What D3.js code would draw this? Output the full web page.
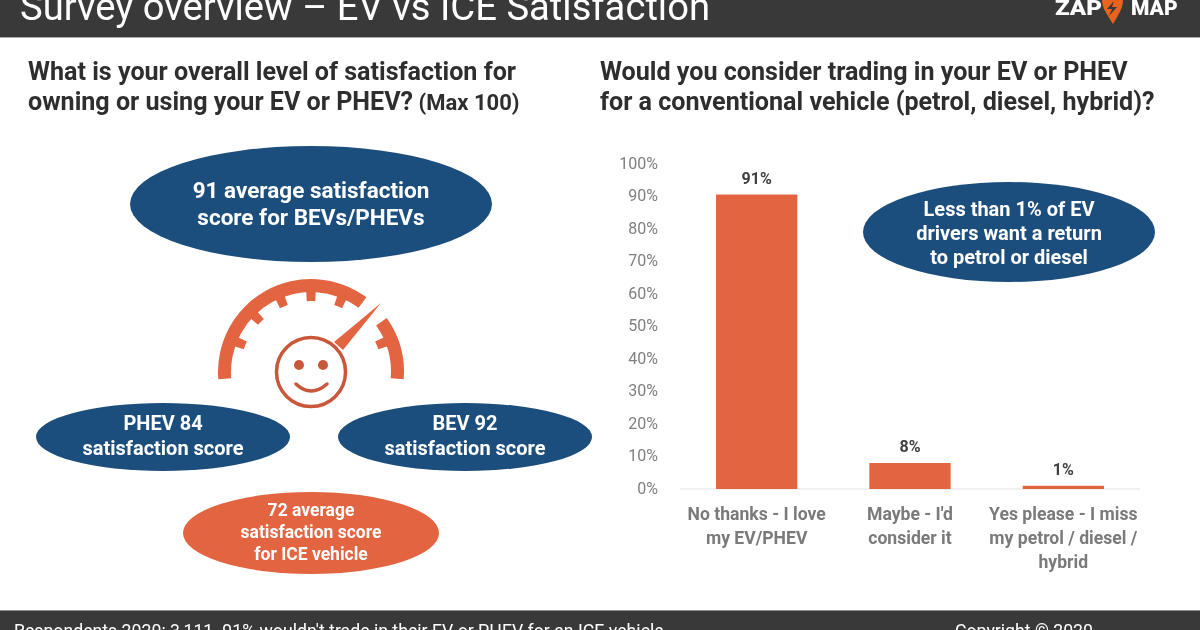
<!DOCTYPE html>
<html>
<head>
<meta charset="utf-8">
<script src="https://cdn.jsdelivr.net/npm/d3@7"></script>
<style>
html, body { margin: 0; padding: 0; background: #fff; }
svg { display: block; filter: blur(0.45px); }
text { font-family: Roboto, sans-serif; }
</style>
</head>
<body>
<div id="chart"></div>
<script>
// chart values
var answers = [["No thanks - I love", "my EV/PHEV"], ["Maybe - I'd", "consider it"], ["Yes please - I miss", "my petrol / diesel /", "hybrid"]];
var shares = [90.6, 8, 1];
var shareTicks = [0, 10, 20, 30, 40, 50, 60, 70, 80, 90, 100];
var gaugeDegrees = [-68, -45, -22.5, 0, 22.5, 68];

var navy = "#1c4e7d", orange = "#e26440", dark = "#393939";

var svg = d3.select("#chart").append("svg")
    .attr("width", 1200)
    .attr("height", 630);

// header + footer bands
svg.append("rect").attr("width", 1200).attr("height", 37).attr("fill", dark);
svg.append("rect").attr("y", 37).attr("width", 1200).attr("height", 1).attr("fill", "#a8a8a8");
svg.append("rect").attr("y", 610).attr("width", 1200).attr("height", 20).attr("fill", dark);
svg.append("rect").attr("y", 610).attr("width", 1200).attr("height", 1).attr("fill", "#8c8c8c");

svg.append("text").attr("x", 20).attr("y", 20)
    .attr("font-size", 38.2).attr("font-weight", 400).attr("fill", "#fff")
    .text("Survey overview – EV vs ICE Satisfaction");

svg.append("text").attr("x", 14).attr("y", 637)
    .attr("font-size", 17.7).attr("fill", "#fff")
    .text("Respondents 2020: 3,111. 91% wouldn't trade in their EV or PHEV for an ICE vehicle");
svg.append("text").attr("x", 955).attr("y", 637)
    .attr("font-size", 17.7).attr("fill", "#fff")
    .text("Copyright © 2020");

// logo
svg.append("text").attr("x", 1055).attr("y", 15)
    .attr("font-size", 21).attr("font-weight", 900).attr("fill", "#fff")
    .attr("textLength", 47).attr("lengthAdjust", "spacingAndGlyphs").text("ZAP");
svg.append("text").attr("x", 1131).attr("y", 15)
    .attr("font-size", 21).attr("font-weight", 900).attr("fill", "#fff").text("MAP");
svg.append("path")
    .attr("d", "M1102,0 L1123,0 C1123,8 1119,14 1113,24 C1107,14 1102,8 1102,0 Z")
    .attr("fill", "#e8641e");
svg.append("path")
    .attr("d", "M1114,1 L1107,9 L1112,9 L1109,16 L1117,7 L1112,7 Z")
    .attr("fill", dark);

// headings
function lines(x, y, step, arr, size, weight, fill, anchor) {
    var t = svg.append("g").attr("font-size", size).attr("font-weight", weight)
        .attr("fill", fill).attr("text-anchor", anchor || "start");
    arr.forEach(function(d, i) {
        t.append("text").attr("x", x).attr("y", y + i * step).text(d);
    });
    return t;
}
lines(28, 80, 31, ["What is your overall level of satisfaction for"], 25.1, 700, "#2e2e2e");
var h2 = lines(28, 110, 31, ["owning or using your EV or PHEV?"], 25.1, 700, "#2e2e2e");
h2.select("text").append("tspan").attr("font-size", 22).attr("font-weight", 700).text(" (Max 100)");
lines(600, 80, 30, ["Would you consider trading in your EV or PHEV", "for a conventional vehicle (petrol, diesel, hybrid)?"], 25.1, 700, "#2e2e2e");

// ellipses with text
function bubble(cx, cy, rx, ry, fill, arr, size, step, shift) {
    svg.append("ellipse").attr("cx", cx).attr("cy", cy).attr("rx", rx).attr("ry", ry).attr("fill", fill);
    var y0 = cy + shift - (arr.length - 1) * step / 2 + size * 0.35;
    lines(cx, y0, step, arr, size, 700, "#fff", "middle");
}
bubble(311, 204, 181, 58, navy, ["91 average satisfaction", "score for BEVs/PHEVs"], 22.5, 27, 0);
bubble(163, 437, 127, 34, navy, ["PHEV 84", "satisfaction score"], 20, 25, -1.5);
bubble(465, 437, 127, 34, navy, ["BEV 92", "satisfaction score"], 20, 25, -1.5);
bubble(311, 533, 128, 41, orange, ["72 average", "satisfaction score", "for ICE vehicle"], 17.5, 22, -1);
bubble(1009, 232, 146, 50, navy, ["Less than 1% of EV", "drivers want a return", "to petrol or diesel"], 20, 24, 0.5);

// gauge
var gauge = svg.append("g").attr("transform", "translate(311,372)");
var rad = d3.scaleLinear().domain([0, 180]).range([0, Math.PI]);
var ring = d3.arc().innerRadius(80).outerRadius(93);
gauge.append("path").attr("fill", orange)
    .attr("d", ring({startAngle: rad(-94.5), endAngle: rad(36.5)}));
gauge.append("path").attr("fill", orange)
    .attr("d", ring({startAngle: rad(54.5), endAngle: rad(94.5)}));
gauge.selectAll(".tick").data(gaugeDegrees).join("path")
    .attr("class", "tick").attr("fill", orange)
    .attr("d", function(d) {
        return d3.arc().innerRadius(71).outerRadius(81)({startAngle: rad(d - 3.4), endAngle: rad(d + 3.4)});
    });
// needle and face
svg.append("path").attr("d", "M381,303 L334,342 L343,350 Z").attr("fill", orange);
svg.append("circle").attr("cx", 311).attr("cy", 372).attr("r", 34.5)
    .attr("fill", "#fff").attr("stroke", "#c9573a").attr("stroke-width", 3.5);
svg.selectAll(".eye").data([299, 323]).join("circle")
    .attr("class", "eye").attr("cx", function(d) { return d; }).attr("cy", 365).attr("r", 5).attr("fill", "#c9573a");
svg.append("path").attr("d", "M296,384 Q311,398 327,384").attr("fill", "none")
    .attr("stroke", "#c9573a").attr("stroke-width", 3.5).attr("stroke-linecap", "round");

// bar chart
var x = d3.scaleBand().domain(d3.range(answers.length)).range([680, 1140]).paddingInner(0.47).paddingOuter(0.235);
var y = d3.scaleLinear().domain([0, 100]).range([489, 164]);

var yAxis = svg.append("g").attr("transform", "translate(661,-1)")
    .call(d3.axisLeft(y).tickValues(shareTicks).tickFormat(function(d) { return d + "%"; }).tickSize(0));
yAxis.select(".domain").remove();
yAxis.selectAll("text").attr("font-size", 16).attr("fill", "#7f7f7f").attr("font-family", "Roboto, sans-serif");

svg.append("line").attr("x1", 680).attr("x2", 1140).attr("y1", y(0)).attr("y2", y(0))
    .attr("stroke", "#e4e4e4").attr("stroke-width", 1);

svg.selectAll(".bar").data(shares).join("rect")
    .attr("class", "bar")
    .attr("x", function(d, i) { return x(i); })
    .attr("y", function(d) { return y(d); })
    .attr("width", x.bandwidth())
    .attr("height", function(d) { return y(0) - y(d); })
    .attr("fill", orange);

svg.selectAll(".val").data(shares).join("text")
    .attr("class", "val")
    .attr("x", function(d, i) { return x(i) + x.bandwidth() / 2; })
    .attr("y", function(d) { return y(d) - 11; })
    .attr("text-anchor", "middle")
    .attr("font-size", 16).attr("font-weight", 700).attr("fill", "#404040")
    .text(function(d) { return Math.round(d) + "%"; });

answers.forEach(function(a, i) {
    lines(x(i) + x.bandwidth() / 2, 519.5, 24, a, 17.6, 700, "#7a7a7a", "middle");
});
</script>
</body>
</html>
